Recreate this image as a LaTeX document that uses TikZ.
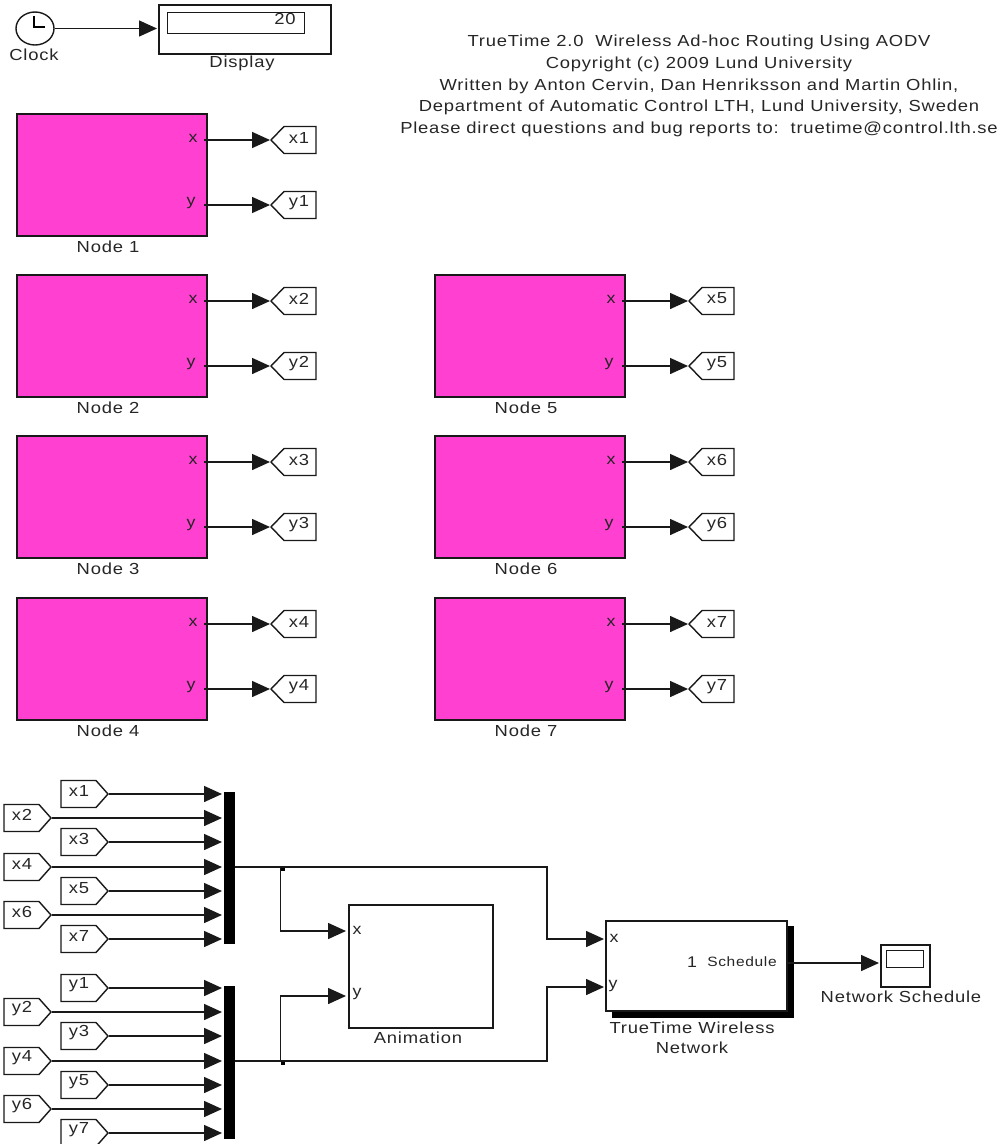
\documentclass[tikz,border=0pt]{standalone}
\usepackage{fontspec}
\setmainfont[FakeStretch=1.15,LetterSpace=5]{Liberation Sans}
\usetikzlibrary{arrows.meta,shapes.geometric}
\tikzset{
  wire/.style={line width=1.5pt,black!90},
  sig/.style={wire,-{Triangle[length=18pt,width=16pt]}},
  block/.style={draw=black!90,line width=1.5pt,anchor=north west,inner sep=0pt},
  magenta block/.style={block,fill=nodepink,minimum width=190pt,minimum height=122pt},
  txt/.style={inner sep=0pt,text=black!85,font=\fontsize{16}{18}\selectfont},
  small/.style={inner sep=0pt,text=black!85,font=\fontsize{15.5}{18}\selectfont},
  tagline/.style={draw=black!90,line width=1.4pt,fill=white},
  bar/.style={fill=black,draw=none,anchor=north west,inner sep=0pt},
  junction/.style={fill=black,draw=none,inner sep=0pt,minimum size=4pt}
}
\definecolor{nodepink}{RGB}{255,64,208}
% goto tag: name, tip x, y, text
\newcommand\gototag[4]{%
  \draw[tagline] (#2+1,#3) -- (#2+14,#3-13.5) -- (#2+46,#3-13.5) -- (#2+46,#3+13.5) -- (#2+14,#3+13.5) -- cycle;
  \node[txt] (#1) at (#2+29,#3-2.5) {#4};
  \coordinate (#1tip) at (#2,#3);}
% from tag: name, left x, y, text
\newcommand\fromtag[4]{%
  \draw[tagline] (#2,#3-13.5) -- (#2+35,#3-13.5) -- (#2+47,#3) -- (#2+35,#3+13.5) -- (#2,#3+13.5) -- cycle;
  \node[txt] (#1) at (#2+18,#3-3) {#4};
  \coordinate (#1tip) at (#2+48,#3);}
\begin{document}
\begin{tikzpicture}[x=1pt,y=-1pt]
\useasboundingbox (0,0) rectangle (1001,1144);
% header
\node[txt,align=center,font=\fontsize{16}{21.7}\selectfont] (title) at (699,86)
 {TrueTime 2.0\ \ Wireless Ad-hoc Routing Using AODV\\
  Copyright (c) 2009 Lund University\\
  Written by Anton Cervin, Dan Henriksson and Martin Ohlin,\\
  Department of Automatic Control LTH, Lund University, Sweden\\
  Please direct questions and bug reports to:\ \ truetime@control.lth.se};
% clock and display
\node[draw=black!90,line width=1.4pt,ellipse,minimum width=38pt,minimum height=33pt,inner sep=0pt] (clock) at (35,28.5) {};
\draw[line width=1.2pt] (34,16) -- (34,27) -- (45,27);
\node[txt] (clocklabel) at (34,55) {Clock};
\node[block,minimum width=172pt,minimum height=49pt] (display) at (158,4) {};
\node[draw=black!90,line width=1.2pt,anchor=north west,minimum width=137pt,minimum height=21pt,inner sep=0pt] (dispin) at (167,12) {};
\node[txt] (dispval) at (285,19) {20};
\node[txt] (displabel) at (242,63) {Display};
\draw[sig,shorten >=1pt] (clock.east) -- (display.west |- clock.east);
% node blocks
\foreach \n/\xl/\yt in {1/16/113,2/16/274,3/16/435,4/16/597,5/434/274,6/434/435,7/434/597}{
  \node[magenta block] (node\n) at (\xl,\yt) {};
  \node[txt] (node\n label) at (\xl+92,\yt+134) {Node \n};
  \node[small] (node\n xp) at (\xl+177,\yt+25) {x};
  \node[small] (node\n yp) at (\xl+175,\yt+90) {y};
  \coordinate (node\n xo) at (\xl+188,\yt+27);
  \coordinate (node\n yo) at (\xl+188,\yt+92);
  \gototag{gx\n}{\xl+254}{\yt+27}{x\n}
  \gototag{gy\n}{\xl+254}{\yt+92}{y\n}
  \draw[sig] (node\n xo) -- (gx\n tip);
  \draw[sig] (node\n yo) -- (gy\n tip);
}
% mux bars
\node[bar,minimum width=11pt,minimum height=152pt] (muxx) at (224,792) {};
\node[bar,minimum width=11pt,minimum height=153pt] (muxy) at (224,986) {};
% from tags
\foreach \n/\xl/\yy in {1/61/794,2/4/818,3/61/842,4/4/867,5/61/891,6/4/915,7/61/939}{
  \fromtag{fx\n}{\xl}{\yy}{x\n}
  \coordinate (mx\n) at (222,\yy);
  \draw[sig] (fx\n tip) -- (mx\n);
}
\foreach \n/\xl/\yy in {1/61/988,2/4/1012,3/61/1036,4/4/1061,5/61/1085,6/4/1109,7/61/1133}{
  \fromtag{fy\n}{\xl}{\yy}{y\n}
  \coordinate (my\n) at (222,\yy);
  \draw[sig] (fy\n tip) -- (my\n);
}
% animation and network
\node[block,minimum width=144pt,minimum height=123pt] (anim) at (348,904) {};
\node[small] (animx) at (357,930) {x};
\node[small] (animy) at (357,994) {y};
\node[txt] (animlabel) at (418,1038) {Animation};
\fill[black] (612,926) rectangle (794,1018);
\node[block,fill=white,minimum width=181pt,minimum height=90pt] (net) at (605,920) {};
\node[small] (netx) at (614,938) {x};
\node[small] (nety) at (613,986) {y};
\node[small] (netone) at (692,962) {1};
\node[small,font=\fontsize{13.5}{16}\selectfont] (netsched) at (742,962) {Schedule};
\node[txt,align=center,font=\fontsize{16}{20}\selectfont] (netlabel) at (692,1038) {TrueTime Wireless\\Network};
\node[block,minimum width=49pt,minimum height=42pt] (scope) at (880,944) {};
\node[draw=black!90,line width=1.3pt,anchor=north west,minimum width=37pt,minimum height=17pt,inner sep=0pt] (scopein) at (886,950) {};
\node[txt] (scopelabel) at (901,997) {Network Schedule};
% connections
\coordinate (netxin) at (604,939);
\coordinate (netyin) at (604,987);
\coordinate (animxin) at (346,931);
\coordinate (animyin) at (346,996);
\coordinate (bx) at (235,867);
\coordinate (by) at (235,1061);
\coordinate (brx) at (280.5,867);
\coordinate (bry) at (280.5,1061);
\node[junction] (jx) at (282.5,869) {};
\node[junction] (jy) at (282.5,1062.5) {};
\draw[sig] (bx) -- (547,867) -- (547,939) -- (netxin);
\draw[sig] (by) -- (547,1061) -- (547,987) -- (netyin);
\draw[sig] (brx) -- (brx |- animxin) -- (animxin);
\draw[sig] (bry) -- (bry |- animyin) -- (animyin);
\coordinate (netout) at (786,963);
\draw[sig,shorten >=1pt] (netout) -- (scope.west |- netout);
\end{tikzpicture}
\end{document}
